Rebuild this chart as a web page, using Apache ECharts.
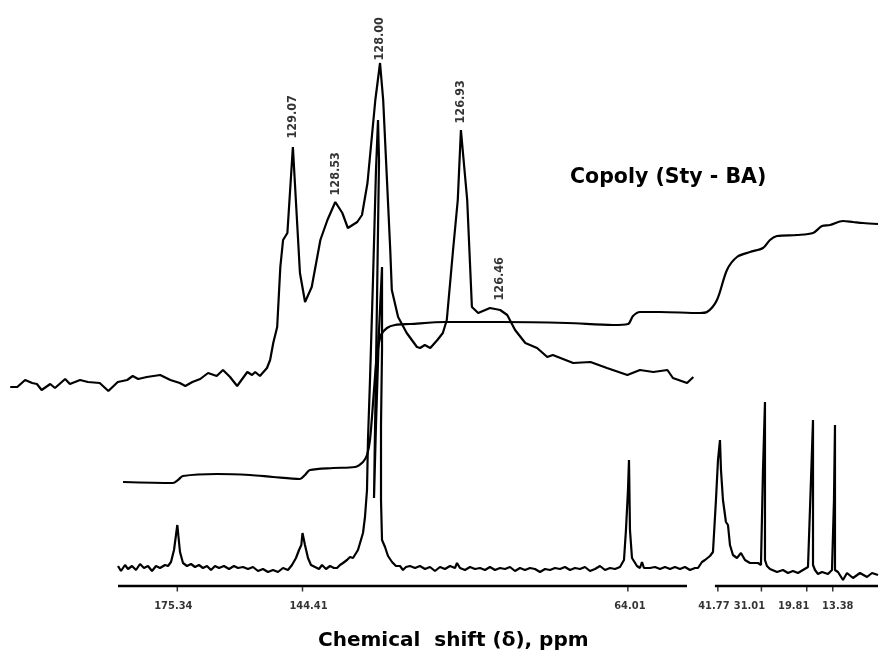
<!DOCTYPE html>
<html>
<head>
<meta charset="utf-8">
<script src="https://cdn.jsdelivr.net/npm/echarts@6/dist/echarts.min.js"></script>
<style>
html,body{margin:0;padding:0;background:#fff;}
#chart{width:881px;height:658px;}
</style>
</head>
<body>
<div id="chart"></div>
<script>
// ---- DATA ----
// Full 13C spectrum: [chemical shift (ppm), intensity (arb.)]
var fullSpectrum = [
[190.00,4.0],[189.26,3.0],[188.27,4.2],[187.53,3.4],[186.54,4.0],[185.55,3.2],[184.56,4.4],[183.58,3.6],[182.59,4.0],[181.60,3.0],[180.61,4.0],[179.62,3.6],[178.39,4.2],[177.64,4.0],[176.90,4.8],[176.16,7.2],[175.67,10.2],[175.34,12.2],[175.17,10.8],[174.68,6.8],[173.94,4.6],[172.95,4.0],[171.96,4.4],[170.97,3.8],[169.99,4.2],[169.00,3.6],[168.01,4.0],[167.02,3.2],[166.03,4.0],[165.04,3.6],[163.81,4.0],[162.57,3.4],[161.34,4.0],[160.35,3.6],[159.11,3.8],[157.88,3.4],[156.64,3.8],[155.41,3.0],[154.17,3.4],[152.94,2.8],[151.70,3.2],[150.47,2.8],[149.23,3.6],[148.00,3.2],[147.01,4.2],[146.02,5.6],[145.27,7.2],[144.70,8.2],[144.41,10.6],[143.80,8.2],[143.05,5.6],[142.31,4.2],[141.32,3.8],[140.33,3.4],[139.59,4.2],[138.60,3.4],[137.61,4.0],[136.63,3.6],[135.88,3.6],[135.14,4.2],[134.40,4.6],[133.41,5.2],[132.67,5.8],[131.93,5.6],[130.70,7.2],[129.46,10.6],[128.97,13.8],[128.47,19.2],[128.23,29.2],[127.73,41.2],[126.99,61.2],[126.25,83.2],[125.75,93.2],[125.50,85.2],[126.00,57.2],[126.49,31.2],[126.74,17.6],[126.25,32.2],[125.50,51.2],[124.76,63.8],[124.76,47.2],[125.01,32.2],[125.01,17.2],[124.76,9.2],[124.02,7.8],[123.28,6.0],[122.29,4.8],[121.31,4.0],
[120.32,4.0],[119.58,3.2],[118.84,3.8],[117.85,4.0],[116.61,3.6],[115.38,4.0],[114.14,3.4],[112.91,3.8],[111.67,3.0],[110.44,3.8],[109.20,3.4],[107.96,4.0],[106.73,3.6],[106.23,4.6],[105.49,3.6],[104.26,3.2],[103.02,3.8],[101.79,3.4],[100.55,3.6],[99.32,3.2],[98.08,3.8],[96.84,3.2],[95.61,3.6],[94.37,3.4],[93.14,3.8],[91.90,3.0],[90.67,3.6],[89.43,3.2],[88.20,3.6],[86.96,3.4],[85.72,2.8],[84.49,3.4],[83.25,3.2],[82.02,3.6],[80.78,3.4],[79.55,3.8],[78.31,3.2],[77.08,3.6],[75.84,3.4],[74.61,3.8],[73.37,3.0],[72.13,3.4],[70.90,4.0],[69.66,3.2],[68.43,3.6],[67.19,3.4],[65.96,3.8],
[64.97,5.2],[64.48,11.2],[63.98,19.2],[63.73,25.2],[63.49,11.2],[62.99,5.6],[61.76,4.0],[61.02,3.6],[60.52,4.8],[60.03,3.6],[58.54,3.6],[57.31,3.8],[56.07,3.4],[54.84,3.8],[53.60,3.4],[52.37,3.8],[51.13,3.4],[49.90,3.8],[48.66,3.2],[47.42,3.6],[46.68,3.6],[45.70,4.8],[44.95,5.2],[43.72,6.0],[42.98,6.8],[42.24,17.2],[41.74,25.2],[41.25,29.2],[41.00,23.2],[40.51,17.2],[39.77,12.8],[39.27,12.2],[38.78,8.2],[38.04,6.2],[37.05,5.6],[36.06,6.6],[35.07,5.2],[33.84,4.6],[31.86,4.6],[31.12,4.2],[30.62,23.2],[30.13,36.8],[30.13,5.2],[29.64,4.0],[28.89,3.4],[27.16,2.8],[25.68,3.2],[24.45,2.6],[23.21,3.0],[21.98,2.6],[20.74,3.2],[19.50,3.8],[18.76,21.2],[18.26,33.2],[18.26,4.2],[17.77,3.2],[17.03,2.4],[16.04,2.8],[14.56,2.4],[13.57,3.2],[13.08,17.2],[12.83,32.2],[12.83,3.2],[12.09,2.8],[10.85,1.2],[9.86,2.6],[8.38,1.6],[6.65,2.6],[4.92,1.8],[3.68,2.6],[2.20,2.2]
];

// Integral trace: [ppm, integral height (arb.)]
var integralCurve = [
[188.76,20.8],[176.41,20.6],[175.17,21.2],[173.94,22.0],[165.54,22.4],[157.38,22.2],[151.70,21.8],[145.03,21.4],[143.80,22.2],[142.56,23.2],[136.87,23.6],[131.44,23.8],[129.46,24.8],[128.47,26.2],[127.73,29.2],[126.74,39.2],[126.00,46.2],[125.01,50.2],[123.53,51.6],[121.55,52.2],[117.85,52.4],[109.20,52.8],[95.61,52.8],[79.05,52.6],[67.69,52.2],[63.98,52.4],[62.74,54.0],[61.02,54.8],[56.07,54.8],[46.19,54.6],[44.46,54.8],[41.99,57.2],[39.52,63.2],[37.05,65.8],[33.84,66.8],[30.62,67.6],[28.89,69.2],[27.16,70.0],[22.22,70.2],[18.26,70.6],[16.04,72.0],[14.06,72.2],[10.85,73.0],[8.38,72.8],[5.91,72.6],[2.20,72.4]
];

// Expanded aromatic region: [ppm, intensity (arb.)]
var aromaticExpansion = [
[132.67,39.8],[132.58,39.8],[132.48,41.2],[132.39,40.6],[132.33,40.4],[132.27,39.2],[132.16,40.4],[132.10,39.6],[131.97,41.4],[131.91,40.4],[131.78,41.2],[131.68,40.8],[131.53,40.6],[131.42,39.0],[131.30,40.8],[131.18,41.2],[131.11,42.0],[131.04,41.4],[130.93,41.8],[130.76,42.2],[130.63,41.2],[130.51,40.6],[130.44,40.0],[130.35,40.8],[130.25,41.4],[130.15,42.6],[130.04,42.0],[129.96,43.2],[129.87,41.8],[129.78,40.0],[129.65,42.8],[129.59,42.2],[129.55,42.8],[129.49,42.0],[129.40,43.6],[129.36,45.2],[129.32,48.6],[129.27,51.8],[129.23,63.8],[129.195,69.2],[129.14,70.6],[129.07,87.8],[128.98,62.6],[128.915,56.8],[128.83,59.8],[128.72,69.2],[128.63,73.2],[128.53,76.8],[128.44,74.6],[128.37,71.6],[128.25,72.8],[128.19,74.2],[128.12,80.6],[128.02,97.2],[127.96,104.6],[127.92,97.2],[127.87,80.6],[127.83,67.2],[127.81,59.2],[127.73,53.8],[127.62,50.6],[127.49,47.8],[127.45,47.6],[127.39,48.2],[127.32,47.6],[127.23,49.2],[127.16,50.6],[127.11,53.2],[127.03,67.2],[126.97,77.2],[126.93,91.2],[126.85,77.2],[126.79,55.8],[126.71,54.6],[126.56,55.6],[126.43,55.2],[126.34,54.2],[126.24,51.2],[126.11,48.6],[125.96,47.6],[125.83,45.8],[125.76,46.2],[125.50,44.6],[125.28,44.8],[125.07,43.6],[124.81,42.2],[124.65,43.2],[124.48,42.8],[124.30,43.2],[124.23,41.6],[124.05,40.6],[123.97,41.8]
];

// Peak labels of the expansion
var aromaticPeakLabels = ["129.07","128.53","128.00","126.93","126.46"];
var aromaticPeakPpm = [129.07,128.53,127.96,126.93,126.43];
var aromaticPeakHeight = [87.8,76.8,104.6,91.2,55.2];

// Axis tick labels (ppm)
var tickValues = [175.34,144.41,64.01,41.77,31.01,19.81,13.38];
var tickLabels = ["175.34","144.41","64.01","41.77","31.01","19.81","13.38"];

// Broken ppm axis segments
var axisSegmentLeft = [190, 49.4];
var axisSegmentRight = [42.5, 2.2];

var titleText = "Copoly (Sty - BA)";
var axisNameText = "Chemical  shift (\u03b4), ppm";

// ---- LAYOUT (label nudges, px) ----
var aromaticLabelGap = [8,6,2,6,9];
var tickLabelShift = [-4,6,2,-4,-12,-13,5];

// ---- CHART ----
var chart = echarts.init(document.getElementById('chart'), null, {renderer:'canvas'});
var black = '#000';
var lw = 2.2;

var labelPoints = aromaticPeakPpm.map(function(p,i){
  return {value:[p, aromaticPeakHeight[i]], name:aromaticPeakLabels[i],
          label:{distance:aromaticLabelGap[i]}};
});
var tickPoints = tickValues.map(function(v,i){
  return {value:[v,0], name:tickLabels[i], label:{offset:[tickLabelShift[i],0]}};
});

chart.setOption({
  animation:false,
  backgroundColor:'#fff',
  title:[
    {text:titleText, left:570, top:167, padding:0,
     textStyle:{fontFamily:'DejaVu Sans', fontWeight:'bold', fontSize:20.5, color:black}},
    {text:axisNameText, left:318, top:631, padding:0,
     textStyle:{fontFamily:'DejaVu Sans', fontWeight:'bold', fontSize:20, color:black}}
  ],
  grid:[
    {left:118, right:3, top:0, bottom:72},
    {left:0, right:0, top:0, bottom:72}
  ],
  xAxis:[
    {type:'value', gridIndex:0, min:2.2, max:190, inverse:true, show:false},
    {type:'value', gridIndex:1, min:121.58, max:132.80, inverse:true, show:false}
  ],
  yAxis:[
    {type:'value', gridIndex:0, min:0, max:117.2, show:false},
    {type:'value', gridIndex:1, min:0, max:117.2, show:false}
  ],
  series:[
    {type:'line', name:'expansion', xAxisIndex:1, yAxisIndex:1, data:aromaticExpansion,
     showSymbol:false, symbol:'none', lineStyle:{color:black, width:lw}, z:3},
    {type:'scatter', name:'peakLabels', xAxisIndex:1, yAxisIndex:1, data:labelPoints,
     symbol:'circle', symbolSize:1, itemStyle:{color:'rgba(0,0,0,0)'},
     label:{show:true, position:'top', rotate:90, align:'left', verticalAlign:'middle',
            formatter:function(p){return p.name;}, fontFamily:'DejaVu Sans Condensed',
            fontWeight:'bold', fontSize:12.5, color:black}, z:5},
    {type:'line', name:'integral', xAxisIndex:0, yAxisIndex:0, data:integralCurve,
     showSymbol:false, symbol:'none', smooth:0.3, lineStyle:{color:black, width:lw}, z:3},
    {type:'line', name:'spectrum', xAxisIndex:0, yAxisIndex:0, data:fullSpectrum,
     showSymbol:false, symbol:'none', lineStyle:{color:black, width:lw}, z:3},
    {type:'line', name:'axisL', xAxisIndex:0, yAxisIndex:0,
     data:[[axisSegmentLeft[0],0],[axisSegmentLeft[1],0]], showSymbol:false, symbol:'none',
     lineStyle:{color:black, width:2.5}, clip:false},
    {type:'line', name:'axisR', xAxisIndex:0, yAxisIndex:0,
     data:[[axisSegmentRight[0],0],[axisSegmentRight[1],0]], showSymbol:false, symbol:'none',
     lineStyle:{color:black, width:2.5}, clip:false},
    {type:'scatter', name:'ticks', xAxisIndex:0, yAxisIndex:0, data:tickPoints,
     symbol:'rect', symbolSize:[1.5,5], symbolOffset:[0,3], itemStyle:{color:black},
     label:{show:true, position:'bottom', distance:9, formatter:function(p){return p.name;},
            fontFamily:'DejaVu Sans Condensed', fontWeight:'bold', fontSize:11, color:black},
     clip:false, z:4}
  ]
});
</script>
</body>
</html>
